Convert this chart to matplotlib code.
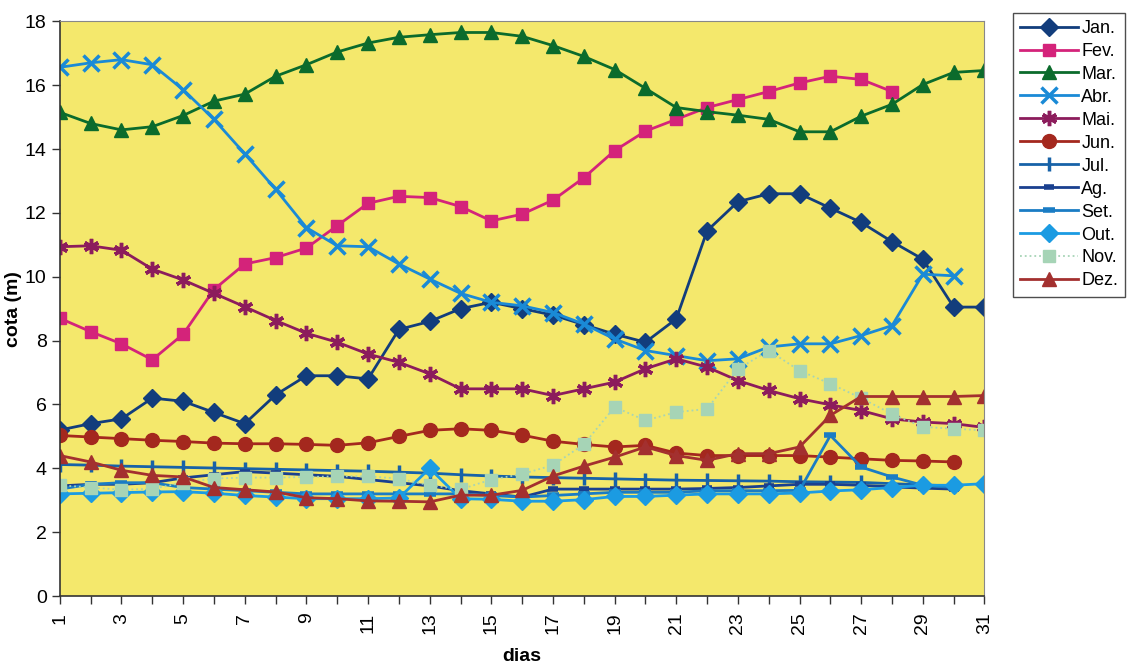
"""Cota diaria por mes (dias 1-31), serie por mes."""
import matplotlib
matplotlib.use("Agg")
import matplotlib.pyplot as plt  # noqa: E402

plt.rcParams["font.family"] = ["Liberation Sans", "DejaVu Sans"]

dias = list(range(1, 32))

jan = [5.2, 5.4, 5.55, 6.2, 6.1, 5.75, 5.4, 6.3, 6.9, 6.9, 6.8, 8.35, 8.6,
       9.0, 9.2, 9.0, 8.8, 8.5, 8.2, 7.95, 8.68, 11.44, 12.35, 12.6, 12.6,
       12.15, 11.7, 11.1, 10.55, 9.05, 9.05]
fev = [8.7, 8.28, 7.9, 7.4, 8.2, 9.6, 10.4, 10.6, 10.9, 11.6, 12.3, 12.52,
       12.48, 12.2, 11.75, 11.96, 12.4, 13.1, 13.95, 14.56, 14.93, 15.3,
       15.55, 15.8, 16.07, 16.28, 16.18, 15.8]
mar = [15.15, 14.8, 14.6, 14.7, 15.05, 15.5, 15.72, 16.28, 16.64, 17.04,
       17.32, 17.5, 17.58, 17.65, 17.65, 17.53, 17.24, 16.9, 16.49, 15.9,
       15.3, 15.17, 15.06, 14.93, 14.54, 14.54, 15.03, 15.4, 16.02, 16.4,
       16.46]
abr = [16.56, 16.7, 16.8, 16.64, 15.86, 14.93, 13.85, 12.74, 11.54, 10.97,
       10.94, 10.4, 9.93, 9.48, 9.2, 9.09, 8.88, 8.52, 8.05, 7.69, 7.53,
       7.37, 7.43, 7.8, 7.9, 7.9, 8.16, 8.47, 10.08, 10.03]
mai = [10.94, 10.97, 10.83, 10.24, 9.9, 9.48, 9.06, 8.63, 8.23, 7.95, 7.58,
       7.32, 6.96, 6.49, 6.49, 6.49, 6.28, 6.49, 6.7, 7.12, 7.43, 7.17, 6.75,
       6.44, 6.18, 5.99, 5.81, 5.55, 5.45, 5.4, 5.28]
jun = [5.03, 4.98, 4.93, 4.88, 4.84, 4.79, 4.77, 4.77, 4.75, 4.72, 4.8,
       5.0, 5.19, 5.24, 5.19, 5.04, 4.85, 4.75, 4.67, 4.72, 4.48, 4.4, 4.4,
       4.4, 4.4, 4.35, 4.3, 4.25, 4.23, 4.2]
jul = [4.12, 4.1, 4.07, 4.05, 4.03, 4.01, 3.99, 3.97, 3.95, 3.93, 3.91,
       3.88, 3.85, 3.8, 3.76, 3.73, 3.71, 3.69, 3.67, 3.65, 3.63, 3.62, 3.61,
       3.6, 3.58, 3.57, 3.56, 3.52, 3.48, 3.45]
ag = [3.45, 3.5, 3.5, 3.55, 3.7, 3.8, 3.9, 3.85, 3.8, 3.75, 3.65, 3.55,
      3.45, 3.3, 3.2, 3.1, 3.35, 3.35, 3.35, 3.35, 3.35, 3.37, 3.4, 3.45,
      3.5, 3.5, 3.47, 3.42, 3.38, 3.35]
set_ = [3.35, 3.5, 3.55, 3.55, 3.4, 3.35, 3.3, 3.25, 3.2, 3.2, 3.2, 3.2,
        3.2, 3.2, 3.15, 3.1, 3.15, 3.2, 3.25, 3.25, 3.25, 3.3, 3.3, 3.3,
        3.31, 5.03, 4.04, 3.73, 3.47, 3.4]
out = [3.2, 3.22, 3.24, 3.26, 3.27, 3.22, 3.15, 3.1, 3.05, 3.05, 3.05,
       3.07, 4.0, 3.05, 3.03, 2.97, 2.97, 3.02, 3.12, 3.12, 3.16, 3.2, 3.2,
       3.2, 3.23, 3.29, 3.33, 3.4, 3.47, 3.47, 3.52]
nov = [3.47, 3.4, 3.33, 3.36, 3.55, 3.68, 3.71, 3.71, 3.73, 3.75, 3.75,
       3.68, 3.47, 3.34, 3.65, 3.82, 4.1, 4.75, 5.92, 5.5, 5.76, 5.86, 7.11,
       7.69, 7.06, 6.65, 6.2, 5.7, 5.3, 5.24, 5.19]
dez = [4.4, 4.2, 3.94, 3.78, 3.73, 3.4, 3.33, 3.26, 3.08, 3.05, 2.98, 2.97,
       2.95, 3.16, 3.16, 3.31, 3.76, 4.07, 4.35, 4.67, 4.4, 4.25, 4.46, 4.46,
       4.67, 5.66, 6.25, 6.25, 6.25, 6.25, 6.28]

# (label, values, color, marker, size, linestyle)
series = [
    ("Jan.", jan, "#123d7c", "D", 9, "-"),
    ("Fev.", fev, "#d4237a", "s", 9, "-"),
    ("Mar.", mar, "#0b6b2c", "^", 10, "-"),
    ("Abr.", abr, "#1a8ad6", "x", 11, "-"),
    ("Mai.", mai, "#8c1c5c", (6, 2, 0), 11, "-"),
    ("Jun.", jun, "#a4281e", "o", 10, "-"),
    ("Jul.", jul, "#1762a8", "|", 10, "-"),
    ("Ag.", ag, "#1a408f", "_", 7, "-"),
    ("Set.", set_, "#1a7cc4", "_", 9, "-"),
    ("Out.", out, "#1b9be2", "D", 9, "-"),
    ("Nov.", nov, "#a6d4b6", "s", 9, ":"),
    ("Dez.", dez, "#a3302f", "^", 10, "-"),
]

fig = plt.figure(figsize=(11.29, 6.66), dpi=100)
ax = fig.add_axes([0.053, 0.105, 0.819, 0.863])
ax.set_facecolor("#f4e86c")

for label, vals, color, marker, ms, ls in series:
    lw = 1.3 if ls == ":" else 2.0
    mew = 2.5 if marker in ("x", (6, 2, 0), "|", "_") else 1.0
    if marker == "_":
        mew = 4
    ax.plot(dias[:len(vals)], vals, linestyle=ls, color=color, lw=lw,
            marker=marker, markersize=ms, markeredgewidth=mew,
            markeredgecolor=color, markerfacecolor=color, label=label)

ax.set_xlim(1, 31)
ax.set_ylim(0, 18)
ax.set_yticks(range(0, 19, 2))
ax.set_xticks(dias)
ax.set_xticklabels([str(d) if d % 2 else "" for d in dias], rotation=90)
ax.tick_params(axis="both", labelsize=14, length=6, width=1, color="#333333")
ax.tick_params(axis="x", pad=6)
for side in ("top", "right"):
    ax.spines[side].set_color("#888888")
for side in ("left", "bottom"):
    ax.spines[side].set_color("#333333")
    ax.spines[side].set_linewidth(1.2)

ax.set_xlabel("dias", fontsize=14, fontweight="bold", labelpad=10)
ax.set_ylabel("cota (m)", fontsize=14, fontweight="bold", labelpad=2)

leg = fig.legend(loc="upper left", bbox_to_anchor=(0.897, 0.981),
                 fontsize=13, frameon=True, fancybox=False, handlelength=3.2,
                 handletextpad=0.2, labelspacing=0.33, borderpad=0.4,
                 borderaxespad=0)
leg.get_frame().set_edgecolor("#222222")
leg.get_frame().set_linewidth(1.0)

fig.savefig("out.png", dpi=100, facecolor="white")
